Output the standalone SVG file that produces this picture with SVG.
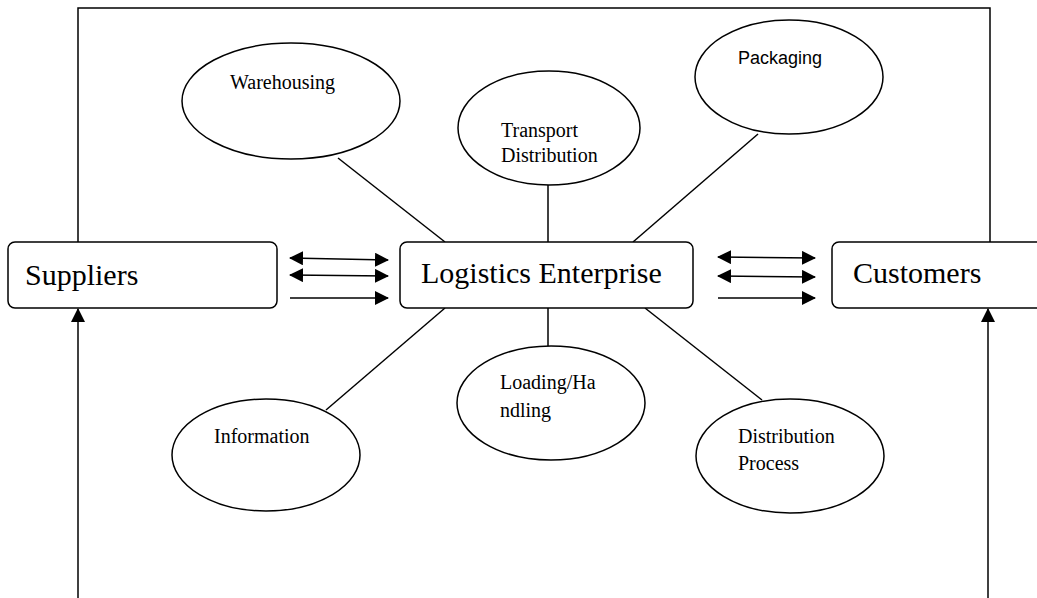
<svg xmlns="http://www.w3.org/2000/svg" width="1037" height="598" viewBox="0 0 1037 598">
<style>
.box{fill:#fff;stroke:#000;stroke-width:1.5}
.ell{fill:#fff;stroke:#000;stroke-width:1.5}
.ln{stroke:#000;stroke-width:1.5;fill:none}
.big{font-family:"Liberation Serif","Times New Roman",serif;font-size:30px;fill:#000}
.sm{font-family:"Liberation Serif","Times New Roman",serif;font-size:20px;fill:#000}
.sans{font-family:"Liberation Sans",Arial,sans-serif;font-size:18px;fill:#000}
</style>
<defs>
<marker id="ah" viewBox="0 0 14 14" refX="13" refY="7" markerWidth="14" markerHeight="14" markerUnits="userSpaceOnUse" orient="auto-start-reverse">
<path d="M0,0 L14,7 L0,14 Z" fill="#000"/>
</marker>
</defs>
<g id="connectors">
<polyline class="ln" points="78,242 78,8 990,8 990,242"/>
<line class="ln" x1="78" y1="598" x2="78" y2="309" marker-end="url(#ah)"/>
<line class="ln" x1="988" y1="598" x2="988" y2="309" marker-end="url(#ah)"/>
<line class="ln" x1="290" y1="258" x2="388" y2="260" marker-start="url(#ah)" marker-end="url(#ah)"/>
<line class="ln" x1="290" y1="275" x2="388" y2="276" marker-start="url(#ah)" marker-end="url(#ah)"/>
<line class="ln" x1="290" y1="298" x2="388" y2="298" marker-end="url(#ah)"/>
<line class="ln" x1="718" y1="257" x2="815" y2="258" marker-start="url(#ah)" marker-end="url(#ah)"/>
<line class="ln" x1="718" y1="276" x2="815" y2="277" marker-start="url(#ah)" marker-end="url(#ah)"/>
<line class="ln" x1="718" y1="298" x2="815" y2="298" marker-end="url(#ah)"/>
<line class="ln" x1="338" y1="158" x2="445" y2="242"/>
<line class="ln" x1="548" y1="185" x2="548" y2="242"/>
<line class="ln" x1="758" y1="134" x2="633" y2="242"/>
<line class="ln" x1="326" y1="410" x2="445" y2="308"/>
<line class="ln" x1="548" y1="308" x2="548" y2="346"/>
<line class="ln" x1="645" y1="308" x2="762" y2="400"/>
</g>
<g id="suppliers">
<rect class="box" x="8" y="242" width="269" height="66" rx="7"/>
<text class="big" x="25" y="285">Suppliers</text>
</g>
<g id="logistics">
<rect class="box" x="400" y="242" width="293" height="66" rx="7"/>
<text class="big" x="421" y="283">Logistics Enterprise</text>
</g>
<g id="customers">
<rect class="box" x="832" y="242" width="215" height="66" rx="7"/>
<text class="big" x="853" y="283">Customers</text>
</g>
<g id="warehousing">
<ellipse class="ell" cx="291" cy="101" rx="109" ry="58"/>
<text class="sm" x="230" y="89">Warehousing</text>
</g>
<g id="transport">
<ellipse class="ell" cx="549" cy="128" rx="91" ry="57"/>
<text class="sm" x="501" y="137">Transport</text>
<text class="sm" x="501" y="162">Distribution</text>
</g>
<g id="packaging">
<ellipse class="ell" cx="789" cy="77" rx="94" ry="57"/>
<text class="sans" x="738" y="64">Packaging</text>
</g>
<g id="information">
<ellipse class="ell" cx="266" cy="455" rx="94" ry="56"/>
<text class="sm" x="214" y="443">Information</text>
</g>
<g id="loading">
<ellipse class="ell" cx="551" cy="403" rx="94" ry="57"/>
<text class="sm" x="500" y="389">Loading/Ha</text>
<text class="sm" x="500" y="417">ndling</text>
</g>
<g id="distribution">
<ellipse class="ell" cx="790" cy="456" rx="94" ry="57"/>
<text class="sm" x="738" y="443">Distribution</text>
<text class="sm" x="738" y="470">Process</text>
</g>
</svg>
